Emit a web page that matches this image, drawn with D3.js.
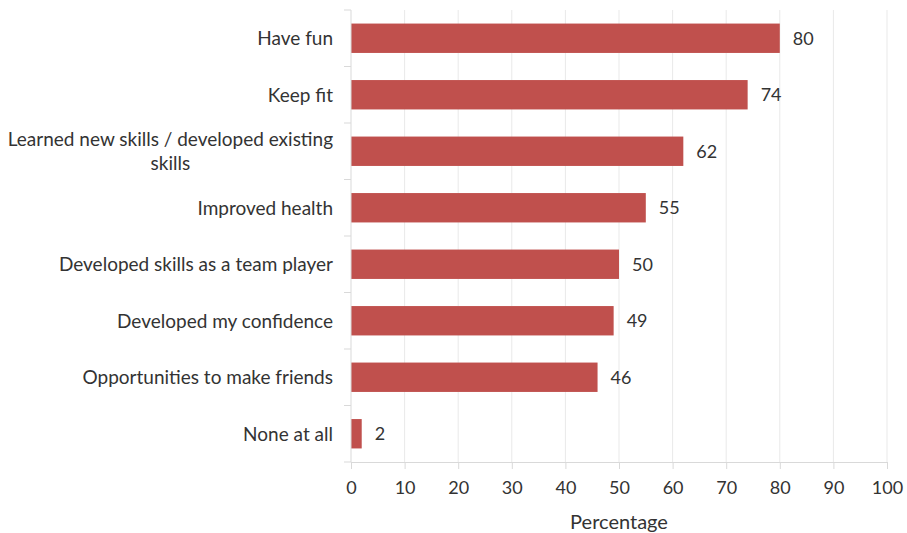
<!DOCTYPE html>
<html>
<head>
<meta charset="utf-8">
<script src="https://cdn.jsdelivr.net/npm/d3@7"></script>
<style>
  html, body { margin: 0; padding: 0; background: #fff; }
  svg text { font-family: Lato, "Open Sans", sans-serif; fill: #333333; }
</style>
</head>
<body>
<svg id="chart" width="907" height="533"></svg>
<script>
// Reasons for taking part in sport (percentage of respondents)
const categories = [
  "Have fun",
  "Keep fit",
  "Learned new skills / developed existing skills",
  "Improved health",
  "Developed skills as a team player",
  "Developed my confidence",
  "Opportunities to make friends",
  "None at all"
];
// line breaks used for the category labels
const categoryLines = [
  ["Have fun"],
  ["Keep fit"],
  ["Learned new skills / developed existing", "skills"],
  ["Improved health"],
  ["Developed skills as a team player"],
  ["Developed my confidence"],
  ["Opportunities to make friends"],
  ["None at all"]
];
const values = [80, 74, 62, 55, 50, 49, 46, 2];
const xTicks = [0, 10, 20, 30, 40, 50, 60, 70, 80, 90, 100];
const axisTitle = "Percentage";

const FONT = "Lato, 'Open Sans', sans-serif";
const svg = d3.select("#chart");
const margin = { top: 10, left: 351 };
const plotW = 887 - margin.left;
const plotH = 462 - margin.top;

const g = svg.append("g").attr("transform", `translate(${margin.left},${margin.top})`);

const x = d3.scaleLinear().domain([0, 100]).range([0, plotW]);
const y = d3.scaleBand().domain(categories).range([0, plotH]).paddingInner(0.48).paddingOuter(0.24);

// vertical gridlines
g.selectAll(".grid").data(xTicks.slice(1)).enter().append("line")
  .attr("x1", d => x(d)).attr("x2", d => x(d))
  .attr("y1", 0).attr("y2", plotH)
  .attr("stroke", "#e9e9e9").attr("stroke-width", 1);

// bars
g.selectAll(".bar").data(values).enter().append("rect")
  .attr("x", x(0))
  .attr("y", (d, i) => y(categories[i]))
  .attr("width", d => x(d) - x(0))
  .attr("height", y.bandwidth())
  .attr("fill", "#C0504D");

// value labels
g.selectAll(".val").data(values).enter().append("text")
  .attr("x", d => x(d) + 13)
  .attr("y", (d, i) => y(categories[i]) + y.bandwidth() / 2)
  .attr("dy", "0.36em")
  .attr("font-size", 18)
  .text(d => d);

// x axis
const xAxis = g.append("g").attr("transform", `translate(0,${plotH})`)
  .call(d3.axisBottom(x).tickValues(xTicks).tickSize(7).tickPadding(12));
xAxis.select(".domain").attr("stroke", "#d9d9d9");
xAxis.selectAll(".tick line").attr("stroke", "#d9d9d9");
xAxis.selectAll(".tick text").attr("font-size", 18).attr("fill", "#333333")
  .style("font-family", FONT);

// y axis line with separators between categories
const bounds = d3.range(categories.length + 1).map(i => i * plotH / categories.length);
g.append("line").attr("x1", 0).attr("x2", 0).attr("y1", 0).attr("y2", plotH)
  .attr("stroke", "#d9d9d9");
g.selectAll(".ytick").data(bounds).enter().append("line")
  .attr("x1", -7).attr("x2", 0)
  .attr("y1", d => d).attr("y2", d => d)
  .attr("stroke", "#d9d9d9");

// category labels
const lh = 24;
categories.forEach((c, i) => {
  const cy = y(c) + y.bandwidth() / 2;
  const lines = categoryLines[i];
  const t = g.append("text").attr("text-anchor", "end").attr("font-size", 19);
  lines.forEach((ln, k) => {
    t.append("tspan").attr("x", -18)
      .attr("y", cy + (k - (lines.length - 1) / 2) * lh)
      .attr("dy", "0.36em").text(ln);
  });
  if (lines.length > 1) {
    // multi-line labels are centred as a block against the right edge
    const bb = t.node().getBBox();
    t.attr("text-anchor", "middle").selectAll("tspan").attr("x", bb.x + bb.width / 2);
  }
});

// axis title
svg.append("text")
  .attr("x", margin.left + plotW / 2)
  .attr("y", 522)
  .attr("dy", "0.36em")
  .attr("text-anchor", "middle")
  .attr("font-size", 20)
  .text(axisTitle);
</script>
</body>
</html>
